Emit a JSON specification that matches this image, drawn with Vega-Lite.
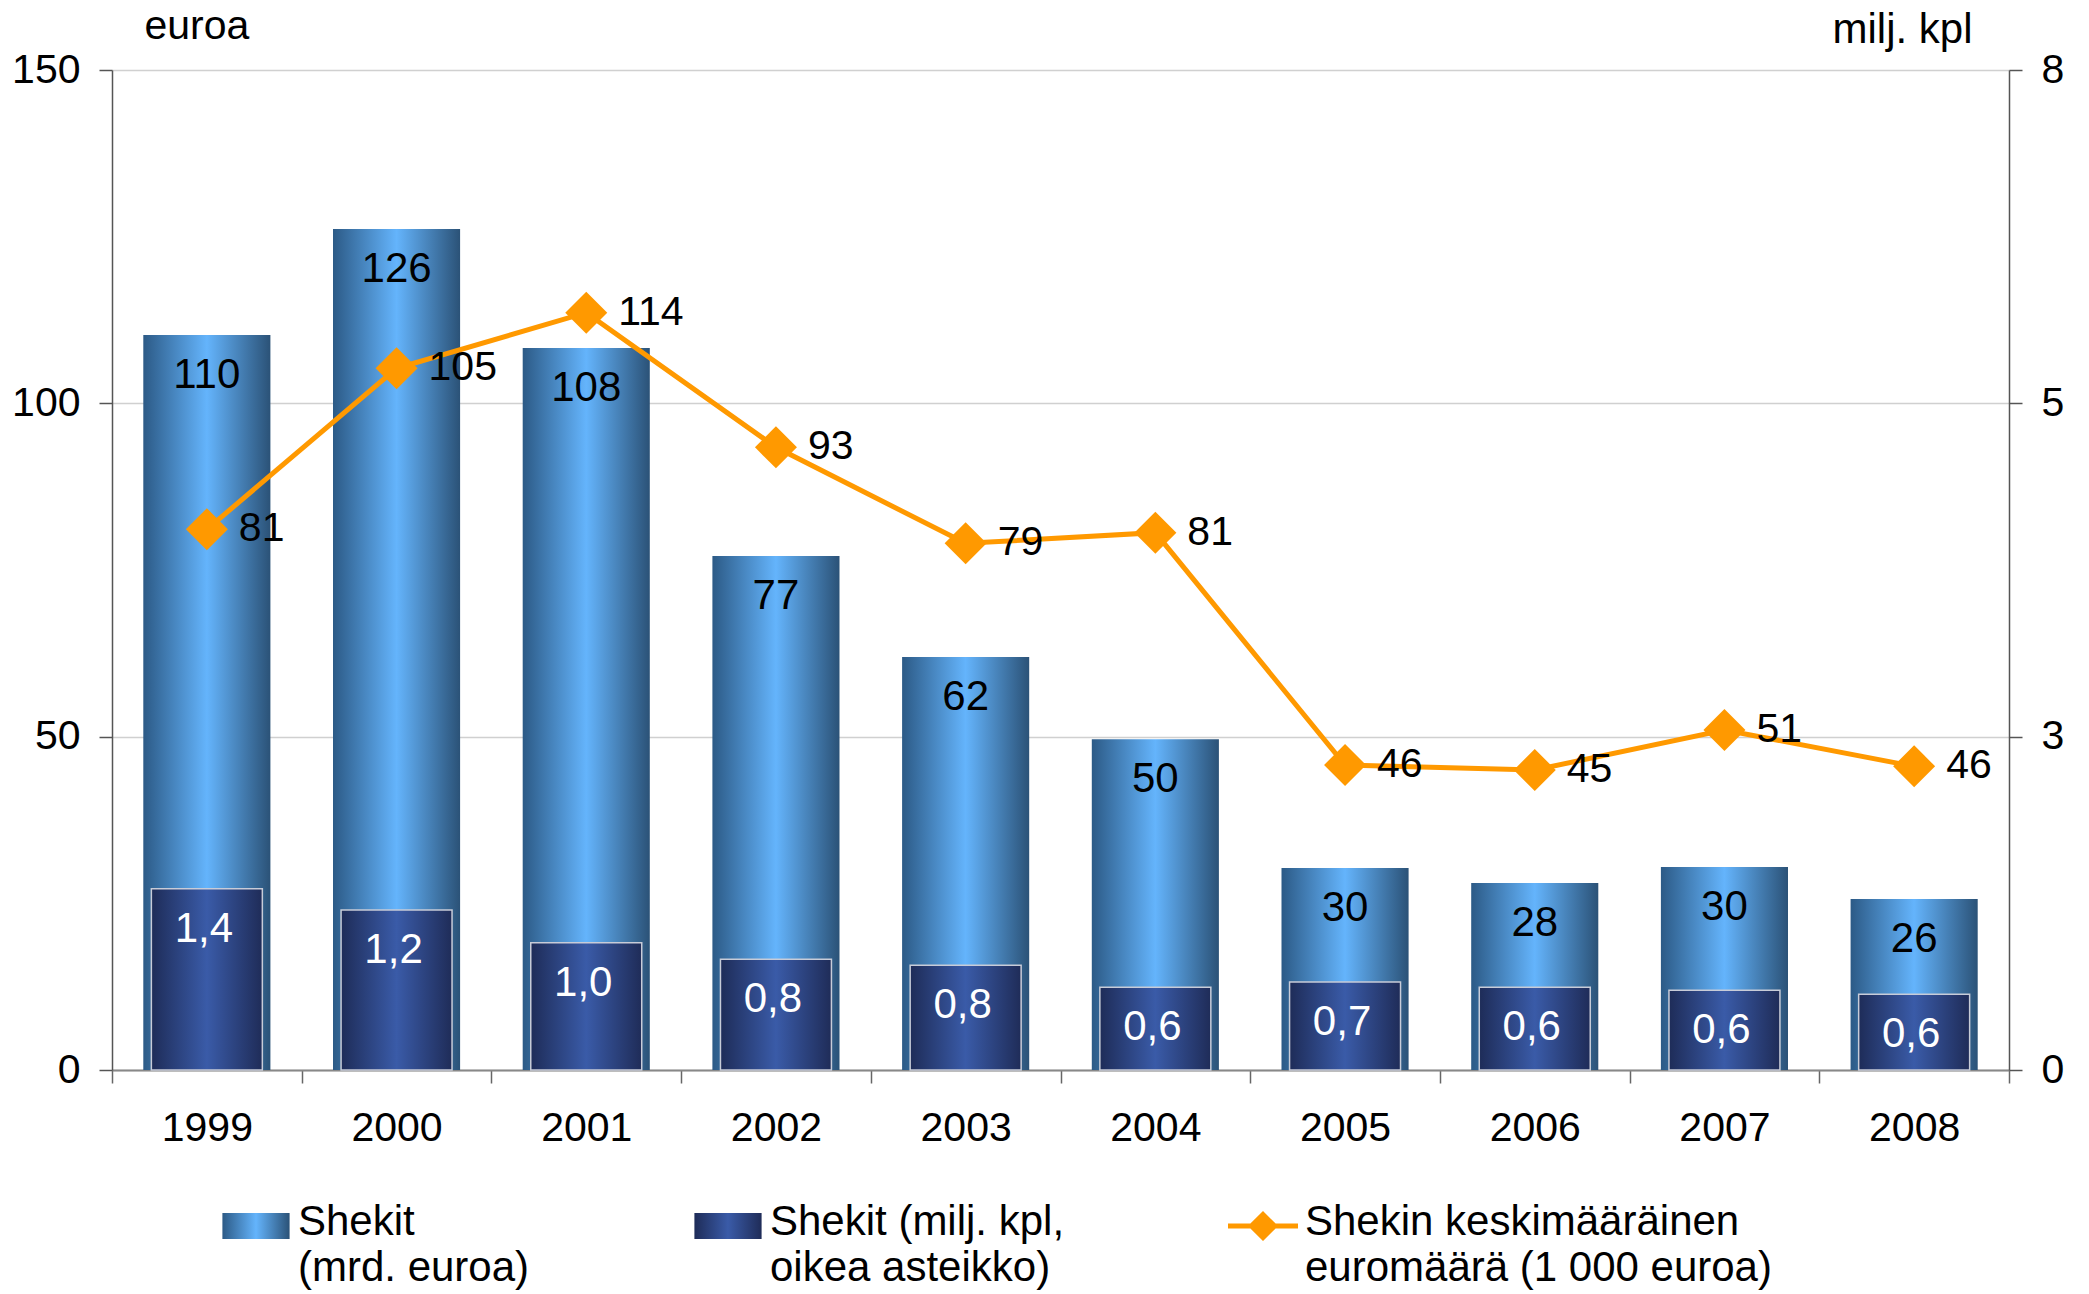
{
  "$schema": "https://vega.github.io/schema/vega-lite/v6.json",
  "width": 1897,
  "height": 1000,
  "autosize": {"type": "none"},
  "padding": {"left": 112, "top": 70, "right": 80, "bottom": 224},
  "background": "white",
  "config": {
    "font": "Liberation Sans",
    "view": {"stroke": null},
    "locale": {"number": {"decimal": ",", "thousands": " ", "grouping": [3], "currency": ["", " €"]}},
    "axis": {"labelFont": "Liberation Sans", "titleFont": "Liberation Sans", "labelColor": "#000", "titleColor": "#000"},
    "text": {"font": "Liberation Sans"}
  },
  "data": {
    "values": [
      {"year": "1999", "eur": 110.25, "kpl": 1.36, "avg": 81.1},
      {"year": "2000", "eur": 126.15, "kpl": 1.2, "avg": 105.25},
      {"year": "2001", "eur": 108.3, "kpl": 0.955, "avg": 113.6},
      {"year": "2002", "eur": 77.1, "kpl": 0.83, "avg": 93.4},
      {"year": "2003", "eur": 61.95, "kpl": 0.785, "avg": 79.0},
      {"year": "2004", "eur": 49.6, "kpl": 0.62, "avg": 80.6},
      {"year": "2005", "eur": 30.3, "kpl": 0.66, "avg": 45.75},
      {"year": "2006", "eur": 28.05, "kpl": 0.62, "avg": 45.0},
      {"year": "2007", "eur": 30.45, "kpl": 0.598, "avg": 51.0},
      {"year": "2008", "eur": 25.65, "kpl": 0.568, "avg": 45.55}
    ]
  },
  "encoding": {
    "x": {
      "field": "year",
      "type": "ordinal",
      "scale": {"paddingInner": 0, "paddingOuter": 0},
      "axis": {
        "title": null,
        "labelAngle": 0,
        "labelFontSize": 41,
        "labelPadding": 25,
        "labelBaseline": "top",
        "tickBand": "extent",
        "tickSize": 13,
        "tickColor": "#666",
        "tickWidth": 1.5,
        "domainColor": "#888",
        "domainWidth": 2,
        "grid": false
      }
    }
  },
  "layer": [
    {
      "encoding": {
        "y": {
          "field": "eur",
          "type": "quantitative",
          "title": "euroa",
          "scale": {"domain": [0, 150]},
          "axis": {
            "values": [0, 50, 100, 150],
            "grid": true,
            "gridColor": "#d0d0d0",
            "gridWidth": 1.5,
            "domainColor": "#555",
            "domainWidth": 1.5,
            "tickColor": "#555",
            "tickWidth": 1.5,
            "tickSize": 13,
            "labelFontSize": 41,
            "labelPadding": 19,
            "titleAngle": 0,
            "titleAlign": "left",
            "titleBaseline": "alphabetic",
            "titleX": 32,
            "titleY": -32,
            "titleFontSize": 41,
            "titleFontWeight": "normal"
          }
        }
      },
      "layer": [
        {
          "mark": {"type": "bar", "width": {"band": 0.67}},
          "encoding": {
            "color": {
              "datum": "Shekit (mrd. euroa)",
              "scale": {
                "domain": ["Shekit (mrd. euroa)", "Shekit (milj. kpl, oikea asteikko)", "Shekin keskimääräinen euromäärä (1 000 euroa)"],
                "range": [
                  {"expr": "{gradient: 'linear', x1: 0, y1: 0, x2: 1, y2: 0, stops: [{offset: 0, color: '#2c5a86'}, {offset: 0.5, color: '#64b4fc'}, {offset: 1, color: '#2b5277'}]}"},
                  {"expr": "{gradient: 'linear', x1: 0, y1: 0, x2: 1, y2: 0, stops: [{offset: 0, color: '#1e2c58'}, {offset: 0.5, color: '#3a5ba8'}, {offset: 1, color: '#1f2c58'}]}"},
                  "#ff9900"
                ]
              },
              "legend": {
                "orient": "none",
                "legendX": 109,
                "legendY": 1121,
                "direction": "horizontal",
                "columns": 3,
                "columnPadding": 163,
                "title": null,
                "labelFontSize": 42,
                "labelFont": "Liberation Sans",
                "labelColor": "#000",
                "labelLimit": 1000,
                "labelOffset": 7,
                "labelBaseline": "top",
                "symbolSize": 4900,
                "labelExpr": "indexof(datum.label, 'mrd') >= 0 ? ['Shekit', '(mrd. euroa)'] : indexof(datum.label, 'milj') >= 0 ? ['Shekit (milj. kpl,', 'oikea asteikko)'] : ['Shekin keskimääräinen', 'euromäärä (1 000 euroa)']",
                "encode": {
                  "symbols": {
                    "update": {
                      "shape": {"signal": "indexof(datum.value, 'keskim') >= 0 ? 'M-1,-0.07L-0.36,-0.07L0,-0.43L0.36,-0.07L1,-0.07L1,0.07L0.36,0.07L0,0.43L-0.36,0.07L-1,0.07Z' : 'M-0.96,-0.37L0.96,-0.37L0.96,0.37L-0.96,0.37Z'"},
                      "fill": {"signal": "scale('color', datum.value)"},
                      "stroke": {"value": "transparent"},
                      "strokeWidth": {"value": 0},
                      "opacity": {"value": 1}
                    }
                  },
                  "labels": {
                    "update": {"lineHeight": {"value": 46}, "dy": {"value": -24}}
                  }
                }
              }
            }
          }
        },
        {
          "mark": {"type": "text", "baseline": "middle", "dy": 40, "fontSize": 42, "color": "#000"},
          "encoding": {
            "text": {"field": "eur", "type": "quantitative", "format": ".0f"}
          }
        },
        {
          "mark": {"type": "line", "strokeWidth": 5},
          "encoding": {
            "y": {"field": "avg", "type": "quantitative"},
            "color": {"datum": "Shekin keskimääräinen euromäärä (1 000 euroa)"}
          }
        },
        {
          "mark": {"type": "point", "shape": "diamond", "filled": true, "size": 1764, "opacity": 1},
          "encoding": {
            "y": {"field": "avg", "type": "quantitative"},
            "color": {"datum": "Shekin keskimääräinen euromäärä (1 000 euroa)"}
          }
        },
        {
          "mark": {"type": "text", "align": "left", "baseline": "middle", "dx": 32, "fontSize": 41, "color": "#000"},
          "encoding": {
            "y": {"field": "avg", "type": "quantitative"},
            "text": {"field": "avg", "type": "quantitative", "format": ".0f"}
          }
        }
      ]
    },
    {
      "encoding": {
        "y": {
          "field": "kpl",
          "type": "quantitative",
          "title": "milj. kpl",
          "scale": {"domain": [0, 7.5]},
          "axis": {
            "orient": "right",
            "values": [0, 2.5, 5, 7.5],
            "format": ".0f",
            "grid": false,
            "domainColor": "#555",
            "domainWidth": 1.5,
            "tickColor": "#555",
            "tickWidth": 1.5,
            "tickSize": 13,
            "labelFontSize": 41,
            "labelPadding": 19,
            "titleAngle": 0,
            "titleAlign": "right",
            "titleBaseline": "alphabetic",
            "titleX": -37,
            "titleY": -28,
            "titleFontSize": 42,
            "titleFontWeight": "normal"
          }
        }
      },
      "layer": [
        {
          "mark": {"type": "bar", "width": {"band": 0.585}, "stroke": "#c8ccd8", "strokeWidth": 1.5},
          "encoding": {
            "color": {"datum": "Shekit (milj. kpl, oikea asteikko)"}
          }
        },
        {
          "mark": {"type": "text", "baseline": "middle", "dy": 40, "dx": -3, "fontSize": 42, "color": "#ffffff"},
          "encoding": {
            "text": {"field": "kpl", "type": "quantitative", "format": ".1f"}
          }
        }
      ]
    }
  ],
  "resolve": {"scale": {"y": "independent"}}
}
